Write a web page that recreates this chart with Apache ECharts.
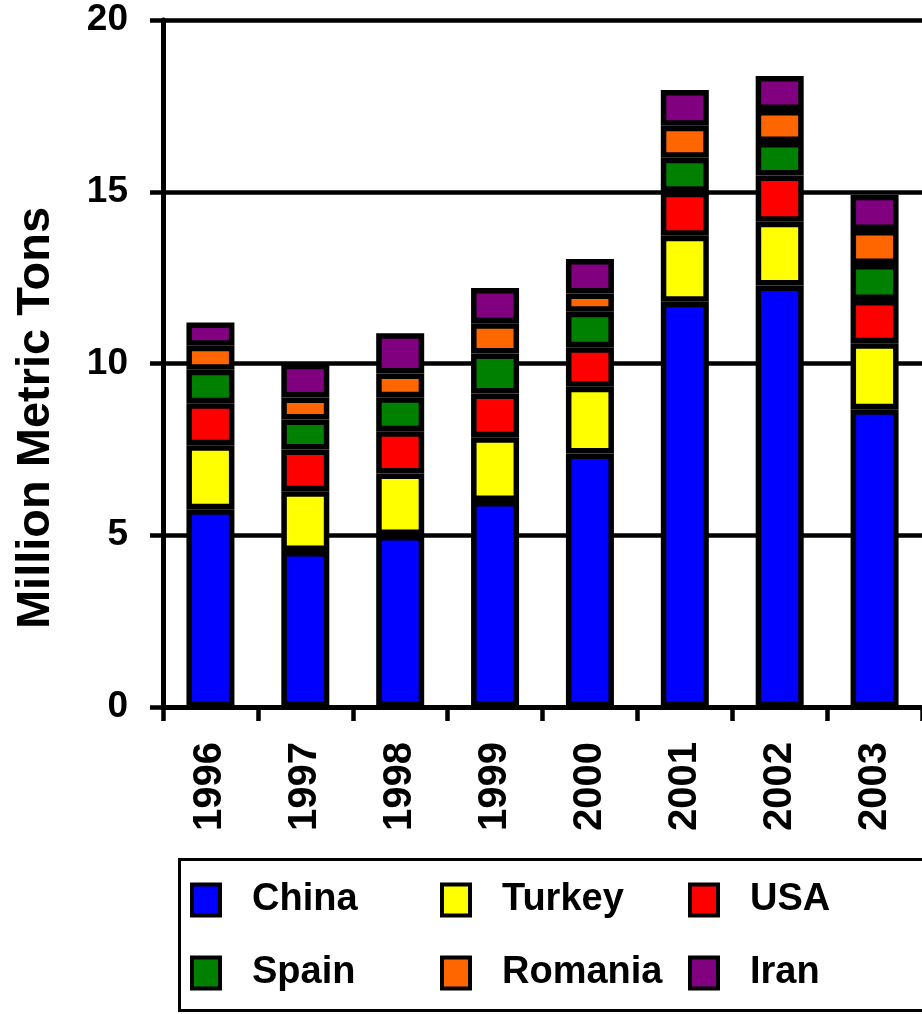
<!DOCTYPE html>
<html>
<head>
<meta charset="utf-8">
<script src="https://cdn.jsdelivr.net/npm/echarts@6/dist/echarts.min.js"></script>
<style>
html,body{margin:0;padding:0;background:#fff;}
#chart{width:922px;height:1014px;}
</style>
</head>
<body>
<div id="chart"></div>
<script>
const years = ['1996','1997','1998','1999','2000','2001','2002','2003'];
const china   = [5.76, 4.54, 5.01, 6.00, 7.38, 11.80, 12.27, 8.67];
const turkey  = [1.86, 1.74, 1.79, 1.85, 1.94, 1.92, 1.86, 1.92];
const usa     = [1.22, 1.22, 1.23, 1.28, 1.15, 1.28, 1.34, 1.26];
const spain   = [0.98, 0.87, 0.99, 1.16, 1.04, 0.99, 0.98, 1.05];
const romania = [0.70, 0.64, 0.69, 0.88, 0.53, 0.93, 0.93, 0.99];
const iran    = [0.67, 0.98, 1.17, 1.03, 1.00, 1.04, 0.99, 1.02];
const seriesNames = ['China','Turkey','USA','Spain','Romania','Iran'];
const seriesData = [china, turkey, usa, spain, romania, iran];
const colors = ['#0000FF','#FFFF00','#FF0000','#008000','#FF6600','#800080'];
const yTicks = [0, 5, 10, 15, 20];
const yTitle = 'Million Metric Tons';

const FONT = '"Liberation Sans", Arial, sans-serif';
const chart = echarts.init(document.getElementById('chart'));

const legendPos = [
  [190, 880], [440, 880], [688, 880],
  [190, 953], [440, 953], [688, 953]
];

const legends = seriesNames.map((n, i) => ({
  data: [n],
  left: legendPos[i][0],
  top: legendPos[i][1],
  padding: 0,
  itemWidth: 28,
  itemHeight: 31,
  icon: 'rect',
  selectedMode: false,
  itemStyle: { borderColor: '#000', borderWidth: 4 },
  textStyle: {
    fontFamily: FONT, fontWeight: 'bold', fontSize: 38, color: '#000',
    padding: [0, 0, 0, 27], lineHeight: 40
  }
}));

chart.setOption({
  animation: false,
  backgroundColor: '#fff',
  grid: { left: 163, top: 20, height: 687, width: 765, containLabel: false },
  legend: legends,
  graphic: [
    {
      type: 'rect',
      shape: { x: 179.5, y: 859.5, width: 760, height: 151 },
      style: { fill: 'none', stroke: '#000', lineWidth: 3 },
      silent: true
    },
    {
      type: 'text',
      x: 36, y: 418,
      rotation: Math.PI / 2,
      style: {
        text: yTitle, fontFamily: FONT, fontWeight: 'bold', fontSize: 47,
        fill: '#000', align: 'center', verticalAlign: 'middle'
      },
      silent: true
    }
  ],
  xAxis: {
    type: 'category',
    data: years,
    axisLine: { lineStyle: { color: '#000', width: 5 } },
    axisTick: { show: true, length: 14, lineStyle: { color: '#000', width: 4.5 } },
    axisLabel: {
      rotate: 90, margin: 35, color: '#000',
      fontFamily: FONT, fontWeight: 'bold', fontSize: 40
    }
  },
  yAxis: {
    type: 'value',
    min: yTicks[0], max: yTicks[yTicks.length - 1], interval: 5,
    axisLine: { show: true, lineStyle: { color: '#000', width: 5 } },
    axisTick: { show: true, inside: false, length: 13, lineStyle: { color: '#000', width: 4.5 } },
    axisLabel: {
      margin: 35, color: '#000',
      fontFamily: FONT, fontWeight: 'bold', fontSize: 37
    },
    splitLine: { show: true, lineStyle: { color: '#000', width: 4.5 } }
  },
  series: seriesNames.map((n, i) => ({
    name: n,
    type: 'bar',
    stack: 'total',
    barWidth: 48,
    data: seriesData[i],
    itemStyle: { color: colors[i], borderColor: '#000', borderWidth: 5.5 }
  }))
});
</script>
</body>
</html>
